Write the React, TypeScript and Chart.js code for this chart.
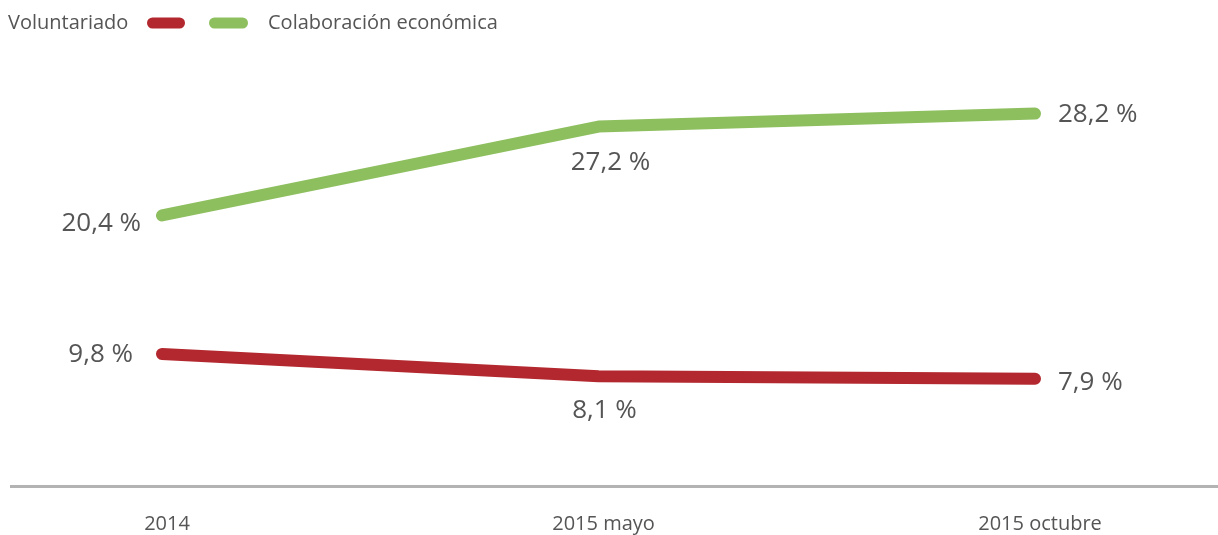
import React, { useEffect, useRef } from "react";
import { Chart, registerables } from "chart.js";

Chart.register(...registerables);

const categories = ["2014", "2015 mayo", "2015 octubre"];
const voluntariado = [9.8, 8.1, 7.9];
const colaboracion = [20.4, 27.2, 28.2];
const seriesNames = ["Voluntariado", "Colaboración económica"];

const RED = "#b3282e";
const GREEN = "#8dbf5f";
const TEXT = "#555555";
const FONT = "'Open Sans', Lato, sans-serif";

// label placement (styling only)
const labelPlacement = [
  [
    { align: "right", dx: -29, dy: 1 },
    { align: "center", dx: 6, dy: 34 },
    { align: "left", dx: 23, dy: 4 },
  ],
  [
    { align: "right", dx: -21, dy: 8 },
    { align: "center", dx: 12, dy: 36 },
    { align: "left", dx: 23, dy: 1 },
  ],
];

const fmt = (v: number) => v.toFixed(1).replace(".", ",") + " %";

const decorPlugin = {
  id: "decor",
  beforeDatasetsDraw(chart: any) {
    const { ctx, chartArea, width } = chart;
    ctx.save();
    ctx.strokeStyle = "#b3b3b3";
    ctx.lineWidth = 3;
    ctx.beginPath();
    const y = chartArea.bottom + 4.5;
    ctx.moveTo(10, y);
    ctx.lineTo(width, y);
    ctx.stroke();
    ctx.restore();
  },
  afterDatasetsDraw(chart: any) {
    const { ctx } = chart;
    ctx.save();
    ctx.font = `26px ${FONT}`;
    ctx.fillStyle = TEXT;
    ctx.textBaseline = "middle";
    chart.data.datasets.forEach((ds: any, di: number) => {
      const meta = chart.getDatasetMeta(di);
      meta.data.forEach((pt: any, i: number) => {
        const p = labelPlacement[di][i];
        ctx.textAlign = p.align;
        ctx.fillText(fmt(ds.data[i]), pt.x + p.dx, pt.y + p.dy);
      });
    });
    // legend
    ctx.font = `20px ${FONT}`;
    ctx.textBaseline = "middle";
    const ly = 23;
    const ds = chart.data.datasets;
    const pill = (x: number, w: number, color: string) => {
      ctx.fillStyle = color;
      ctx.beginPath();
      ctx.roundRect(x, ly - 5.5, w, 11, 5.5);
      ctx.fill();
    };
    ctx.fillStyle = TEXT;
    ctx.textAlign = "left";
    ctx.fillText(ds[0].label, 8, ly);
    pill(147, 38, ds[0].borderColor);
    pill(209, 39, ds[1].borderColor);
    ctx.fillStyle = TEXT;
    ctx.fillText(ds[1].label, 268, ly);
    ctx.restore();
  },
};

export default function App() {
  const ref = useRef<HTMLCanvasElement>(null);
  useEffect(() => {
    document.body.style.margin = "0";
    const chart = new Chart(ref.current!, {
      type: "line",
      data: {
        labels: categories,
        datasets: [
          {
            label: seriesNames[0],
            data: voluntariado,
            borderColor: RED,
            backgroundColor: RED,
            borderWidth: 12,
            borderCapStyle: "round",
            borderJoinStyle: "round",
            pointRadius: 0,
            tension: 0,
          },
          {
            label: seriesNames[1],
            data: colaboracion,
            borderColor: GREEN,
            backgroundColor: GREEN,
            borderWidth: 12,
            borderCapStyle: "round",
            borderJoinStyle: "round",
            pointRadius: 0,
            tension: 0,
          },
        ],
      },
      options: {
        responsive: false,
        animation: false,
        layout: { padding: { left: 162, right: 183, top: 90, bottom: 0 } },
        plugins: { legend: { display: false }, tooltip: { enabled: false } },
        scales: {
          y: { display: false, min: 0, max: 30 },
          x: {
            offset: false,
            grid: { display: false },
            border: { display: false },
            ticks: {
              color: TEXT,
              font: { family: FONT, size: 20 },
              padding: 22,
              labelOffset: 5,
              maxRotation: 0,
            },
            afterFit: (s: any) => {
              s.height = 53;
            },
          },
        },
      },
      plugins: [decorPlugin],
    });
    return () => chart.destroy();
  }, []);
  return <canvas ref={ref} width={1218} height={535} style={{ display: "block" }} />;
}
